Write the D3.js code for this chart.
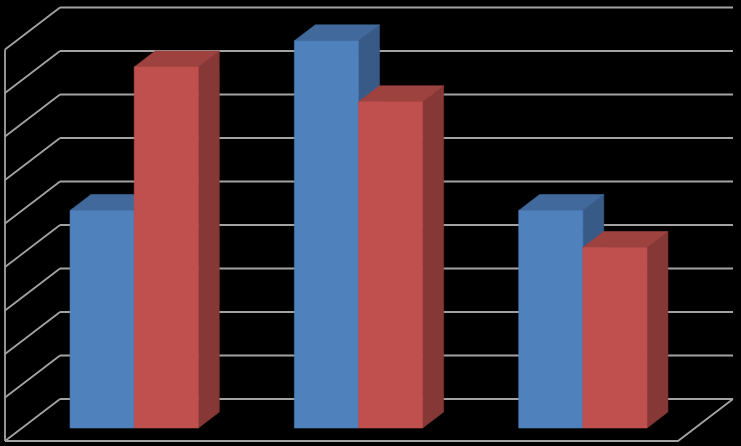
<!DOCTYPE html>
<html>
<head>
<meta charset="utf-8">
<script src="https://cdn.jsdelivr.net/npm/d3@7"></script>
<style>
  html, body { margin: 0; padding: 0; background: #000; }
  svg { display: block; }
</style>
</head>
<body>
<div id="chart"></div>
<script>
// 3D clustered column chart, no labels
var w = 741, h = 446;

var categories = ["A", "B", "C"];
var seriesNames = ["Serie 1", "Serie 2"];
var serie1 = [5.0, 8.9, 5.0];
var serie2 = [8.3, 7.5, 4.15];
var yTicks = [0, 1, 2, 3, 4, 5, 6, 7, 8, 9];

var faceColors = [
  { front: "#4f81bd", top: "#41699b", side: "#385a87" },
  { front: "#c0504d", top: "#9d423f", side: "#863836" }
];

// depth of the box: offset of the back plane
var DX = 55, DY = 42;
var z0 = 0.31, z1 = 0.69; // depth range taken by the columns

var x = d3.scaleBand().domain(categories).range([5, 678])
  .paddingInner(96 / 224.3).paddingOuter(48 / 224.3);
var xs = d3.scaleBand().domain(seriesNames).range([0, x.bandwidth()]);
var y = d3.scaleLinear().domain([0, 9]).range([441, 49.5]);

function P(px, v, z) {
  return [px + z * DX, y(v) - z * DY];
}
function poly(pts) { return pts.map(function(p) { return p.join(","); }).join(" "); }

var svg = d3.select("#chart").append("svg").attr("width", w).attr("height", h);
svg.append("rect").attr("width", w).attr("height", h).attr("fill", "#000");

var grid = svg.append("g").attr("stroke", "#a3a3a3").attr("stroke-width", 1.8)
  .attr("fill", "none");

// back wall lines
grid.selectAll("line.back").data(yTicks).enter().append("line")
  .attr("x1", P(5, 0, 1)[0]).attr("x2", P(678, 0, 1)[0])
  .attr("y1", function(d) { return P(0, d, 1)[1]; })
  .attr("y2", function(d) { return P(0, d, 1)[1]; });

// left wall lines
grid.selectAll("line.side").data(yTicks).enter().append("line")
  .attr("x1", 5).attr("x2", P(5, 0, 1)[0])
  .attr("y1", function(d) { return P(5, d, 0)[1]; })
  .attr("y2", function(d) { return P(5, d, 1)[1]; });

grid.append("line").attr("x1", 5).attr("x2", 5)
  .attr("y1", y(0)).attr("y2", y(9));

// floor edges
grid.append("polyline").attr("points", poly([P(5, 0, 0), P(678, 0, 0), P(678, 0, 1)]));

// columns
var bars = [];
categories.forEach(function(c, i) {
  [serie1[i], serie2[i]].forEach(function(v, s) {
    bars.push({ cat: c, s: s, v: v });
  });
});

var cols = svg.append("g").selectAll("g").data(bars).enter().append("g");
cols.each(function(d) {
  var g = d3.select(this);
  var xl = x(d.cat) + xs(seriesNames[d.s]);
  var xr = xl + xs.bandwidth();
  var col = faceColors[d.s];
  g.append("polygon").attr("fill", col.side).attr("stroke", col.side).attr("stroke-width", 0.6)
    .attr("points", poly([P(xr, 0, z0), P(xr, 0, z1), P(xr, d.v, z1), P(xr, d.v, z0)]));
  g.append("polygon").attr("fill", col.top).attr("stroke", col.top).attr("stroke-width", 0.6)
    .attr("points", poly([P(xl, d.v, z0), P(xl, d.v, z1), P(xr, d.v, z1), P(xr, d.v, z0)]));
  g.append("polygon").attr("fill", col.front).attr("stroke", col.front).attr("stroke-width", 0.6)
    .attr("points", poly([P(xl, 0, z0), P(xr, 0, z0), P(xr, d.v, z0), P(xl, d.v, z0)]));
});
</script>
</body>
</html>
